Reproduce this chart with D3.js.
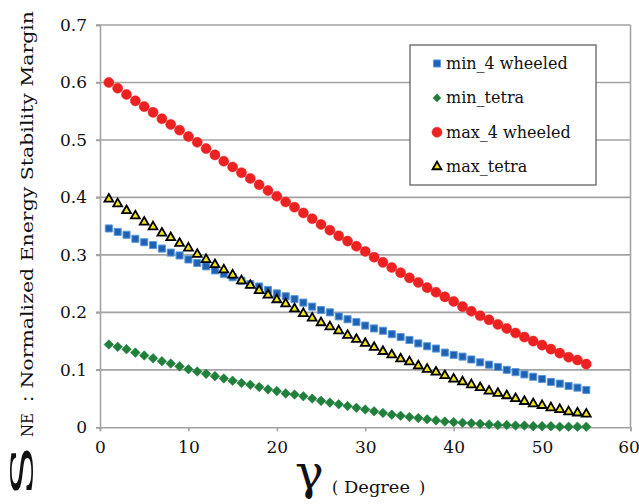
<!DOCTYPE html>
<html>
<head>
<meta charset="utf-8">
<script src="https://cdn.jsdelivr.net/npm/d3@7"></script>
<style>
  html, body { margin: 0; padding: 0; background: #fff; }
  text { font-family: "DejaVu Serif", "Liberation Serif", serif; fill: #111; }
</style>
</head>
<body>
<div id="vis"></div>
<script>
// gamma (degree)
var degrees = [1,2,3,4,5,6,7,8,9,10,11,12,13,14,15,16,17,18,19,20,21,22,23,24,25,26,27,28,
  29,30,31,32,33,34,35,36,37,38,39,40,41,42,43,44,45,46,47,48,49,50,51,52,53,54,55];

var min4Wheeled = [0.346,0.340,0.335,0.328,0.322,0.317,0.311,0.304,0.299,0.292,0.286,0.280,0.273,
  0.267,0.261,0.255,0.249,0.245,0.239,0.233,0.228,0.223,0.217,0.210,0.204,0.200,0.193,0.188,0.183,
  0.177,0.172,0.168,0.162,0.157,0.152,0.146,0.141,0.137,0.130,0.126,0.123,0.118,0.113,0.109,0.105,
  0.100,0.096,0.092,0.088,0.084,0.079,0.076,0.072,0.069,0.065];

var minTetra = [0.144,0.140,0.136,0.130,0.125,0.120,0.115,0.111,0.106,0.101,0.097,0.093,0.089,
  0.085,0.081,0.077,0.074,0.070,0.066,0.063,0.059,0.057,0.054,0.050,0.046,0.043,0.040,0.037,0.034,
  0.031,0.028,0.025,0.022,0.020,0.018,0.016,0.014,0.012,0.010,0.009,0.008,0.007,0.006,0.005,0.004,
  0.004,0.003,0.003,0.002,0.002,0.002,0.001,0.001,0.001,0.001];

var max4Wheeled = [0.600,0.590,0.579,0.568,0.558,0.548,0.537,0.527,0.517,0.506,0.496,0.485,0.474,
  0.463,0.453,0.443,0.433,0.422,0.412,0.402,0.392,0.383,0.373,0.363,0.353,0.343,0.333,0.324,0.315,
  0.306,0.296,0.287,0.278,0.269,0.260,0.252,0.243,0.235,0.227,0.219,0.210,0.202,0.194,0.187,0.179,
  0.172,0.164,0.157,0.150,0.143,0.136,0.129,0.122,0.117,0.110];

var maxTetra = [0.397,0.389,0.377,0.368,0.357,0.349,0.338,0.330,0.320,0.312,0.301,0.292,0.283,
  0.274,0.265,0.255,0.247,0.238,0.230,0.222,0.215,0.206,0.198,0.190,0.182,0.175,0.168,0.160,0.153,
  0.146,0.139,0.132,0.126,0.119,0.114,0.107,0.101,0.096,0.090,0.084,0.079,0.074,0.069,0.063,0.059,
  0.055,0.050,0.045,0.041,0.038,0.034,0.031,0.027,0.025,0.023];

var seriesNames = ["min_4 wheeled", "min_tetra", "max_4 wheeled", "max_tetra"];
var xTicks = [0, 10, 20, 30, 40, 50, 60];
var yTicks = [0, 0.1, 0.2, 0.3, 0.4, 0.5, 0.6, 0.7];

var W = 639, H = 504;
var margin = {top: 25, right: 8.5, bottom: 76.7, left: 100};
var width = W - margin.left - margin.right,
    height = H - margin.top - margin.bottom;

var svg = d3.select("#vis").append("svg")
  .attr("width", W)
  .attr("height", H);

var g = svg.append("g")
  .attr("transform", "translate(" + margin.left + "," + margin.top + ")");

var x = d3.scaleLinear().domain([0, 60]).range([0, width]);
var y = d3.scaleLinear().domain([0, 0.7]).range([height, 0]);

var gridColor = "#a3a3a3";

// gridlines
g.selectAll("line.grid")
  .data(yTicks.slice(1))
  .enter().append("line")
  .attr("class", "grid")
  .attr("x1", -4).attr("x2", width)
  .attr("y1", function(d) { return y(d); })
  .attr("y2", function(d) { return y(d); })
  .attr("stroke", gridColor).attr("stroke-width", 1.6);

// right border
g.append("line")
  .attr("x1", width).attr("x2", width)
  .attr("y1", 0).attr("y2", height)
  .attr("stroke", gridColor).attr("stroke-width", 1.6);

// y axis
var yAxis = g.append("g")
  .call(d3.axisLeft(y).tickValues(yTicks).tickSize(4).tickPadding(9)
    .tickFormat(function(d) { return d === 0 ? "0" : d3.format(".1f")(d); }));
// x axis
var xAxis = g.append("g")
  .attr("transform", "translate(0," + height + ")")
  .call(d3.axisBottom(x).tickValues(xTicks).tickSize(4).tickPadding(10).tickFormat(d3.format("d")));

[yAxis, xAxis].forEach(function(a) {
  a.select(".domain").attr("stroke", gridColor).attr("stroke-width", 1.6);
  a.selectAll(".tick line").attr("stroke", gridColor).attr("stroke-width", 1.6);
  a.selectAll(".tick text")
    .style("font-family", '"DejaVu Serif", serif')
    .style("font-size", "17px")
    .attr("fill", "#111");
});
// keep the last x label inside the page
xAxis.selectAll(".tick text").filter(function(d) { return d === 60; }).attr("dx", -2);

// markers
var squarePath = d3.symbol().type(d3.symbolSquare).size(50)();
var diamondPath = d3.symbol().type(d3.symbolSquare).size(46)();
var circlePath = d3.symbol().type(d3.symbolCircle).size(80)();
var trianglePath = d3.symbol().type(d3.symbolTriangle).size(34)();

var series = [
  {name: seriesNames[0], values: min4Wheeled, path: squarePath, rot: 0,
   fill: "#1f62b3", stroke: "#5c9ad8", sw: 1},
  {name: seriesNames[1], values: minTetra, path: diamondPath, rot: 45,
   fill: "#1f7f3b", stroke: "#1f7f3b", sw: 0.5},
  {name: seriesNames[2], values: max4Wheeled, path: circlePath, rot: 0,
   fill: "#ec2121", stroke: "#ec2121", sw: 0.5},
  {name: seriesNames[3], values: maxTetra, path: trianglePath, rot: 0,
   fill: "#f2e41c", stroke: "#000", sw: 1.8}
];

series.forEach(function(s) {
  g.append("g").selectAll("path")
    .data(degrees)
    .enter().append("path")
    .attr("d", s.path)
    .attr("transform", function(d, i) {
      return "translate(" + x(d) + "," + y(s.values[i]) + ") rotate(" + s.rot + ")";
    })
    .attr("fill", s.fill)
    .attr("stroke", s.stroke)
    .attr("stroke-width", s.sw);
});

// legend
var legend = svg.append("g").attr("transform", "translate(410,45)");
legend.append("rect")
  .attr("x", 0).attr("y", 0).attr("width", 186).attr("height", 140)
  .attr("fill", "#fff").attr("stroke", "#555").attr("stroke-width", 1.2);

var rowY = d3.scalePoint().domain(seriesNames).range([18.5, 121.7]);
series.forEach(function(s) {
  var row = legend.append("g")
    .attr("transform", "translate(27," + rowY(s.name) + ")");
  row.append("path")
    .attr("d", s.path)
    .attr("transform", "rotate(" + s.rot + ")" + (s.rot ? " scale(0.85)" : ""))
    .attr("fill", s.fill).attr("stroke", s.stroke).attr("stroke-width", s.sw);
  row.append("text")
    .attr("x", 9).attr("y", 5.5)
    .style("font-size", "16px")
    .text(s.name);
});

// y title
var yTitle = svg.append("g").attr("transform", "translate(33,497) rotate(-90)");
yTitle.append("text")
  .attr("x", 0).attr("y", 0)
  .attr("textLength", 52).attr("lengthAdjust", "spacingAndGlyphs")
  .style("font-size", "31px")
  .text("S");
yTitle.append("text")
  .attr("x", 60).attr("y", 0)
  .attr("textLength", 24).attr("lengthAdjust", "spacingAndGlyphs")
  .style("font-size", "16px")
  .text("NE");
yTitle.append("text")
  .attr("x", 88).attr("y", 0)
  .attr("textLength", 398).attr("lengthAdjust", "spacingAndGlyphs")
  .style("font-size", "17px")
  .text("\uFF1ANormalized Energy Stability Margin");

// x title
svg.append("text")
  .attr("x", 295).attr("y", 489)
  .style("font-size", "48px")
  .text("\u03B3");
svg.append("text").attr("x", 332).attr("y", 493).style("font-size", "16px").text("(");
svg.append("text").attr("x", 344).attr("y", 493)
  .attr("textLength", 66).attr("lengthAdjust", "spacingAndGlyphs")
  .style("font-size", "17px").text("Degree");
svg.append("text").attr("x", 419).attr("y", 493).style("font-size", "16px").text(")");
</script>
</body>
</html>
